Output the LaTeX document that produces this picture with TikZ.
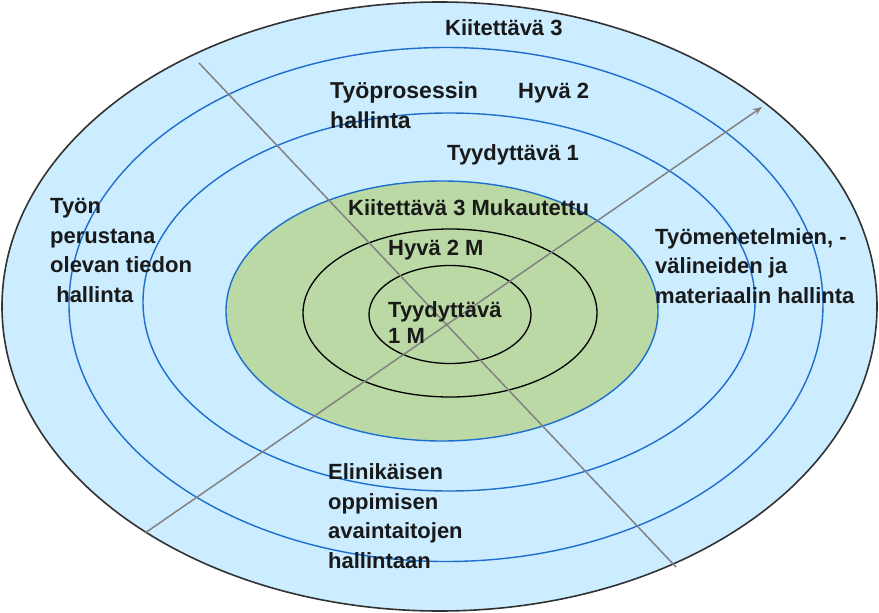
\documentclass[tikz,border=0pt]{standalone}
\usepackage{fontspec}
\setmainfont{Liberation Sans}
\usetikzlibrary{arrows.meta}
\definecolor{ringblue}{RGB}{204,236,255}
\definecolor{ringgreen}{RGB}{186,217,164}
\definecolor{lineblue}{RGB}{30,110,205}
\definecolor{axisgray}{RGB}{130,130,130}
\definecolor{rimgray}{RGB}{50,50,50}
\begin{document}
\begin{tikzpicture}[x=1pt,y=-1pt,
  lbl/.style={anchor=base west, align=left, inner sep=0pt,
    font=\fontsize{22}{29.5}\selectfont\bfseries, text=black!90},
  lblc/.style={lbl, font=\fontsize{22}{26}\selectfont\bfseries},
  ring/.style={draw=lineblue, line width=1.4pt},
  inring/.style={draw=black, line width=1.3pt},
  axis/.style={draw=axisgray, line width=1.5pt}]
\useasboundingbox (0,0) rectangle (879,613);
\fill[white] (0,0) rectangle (879,613);
% rings
\draw[fill=ringblue, draw=rimgray, line width=1.6pt] (439.5,306.5) ellipse [x radius=437.5, y radius=304.5];
\draw[ring] (446,304.5) ellipse [x radius=377, y radius=257];
\draw[ring] (449,302) ellipse [x radius=306, y radius=189];
\draw[ring, fill=ringgreen] (442,311) ellipse [x radius=216, y radius=130];
\draw[inring] (450,313) ellipse [x radius=147, y radius=84];
\draw[inring] (450,314.5) ellipse [x radius=81, y radius=49];
% axes
\coordinate (a1) at (199,63);
\coordinate (a2) at (676,567);
\coordinate (b1) at (145,533);
\coordinate (b2) at (762,107);
\draw[axis] (a1) -- (a2);
\draw[axis, -{Stealth[length=9pt,width=7pt]}] (b1) -- (b2);
% labels (anchor = baseline of the last line)
\node[lbl] (k3) at (445,35) {Kiitettävä 3};
\node[lbl, font=\fontsize{23}{30}\selectfont\bfseries] (tp) at (330,128) {Työprosessin\\hallinta};
\node[lbl] (h2) at (518,98) {Hyvä 2};
\node[lbl] (t1) at (447,160) {Tyydyttävä 1};
\node[lbl] (k3m) at (348,215) {Kiitettävä 3 Mukautettu};
\node[lbl] (h2m) at (388,255) {Hyvä 2 M};
\node[lblc] (t1m) at (388,343) {Tyydyttävä\\1 M};
\node[lbl] (tyon) at (50,302) {Työn\\perustana\\olevan tiedon\\\ hallinta};
\node[lbl] (tym) at (655,303) {Työmenetelmien, -\\välineiden ja\\materiaalin hallinta};
\node[lbl] (eli) at (328,568) {Elinikäisen\\oppimisen\\avaintaitojen\\hallintaan};
\end{tikzpicture}
\end{document}
